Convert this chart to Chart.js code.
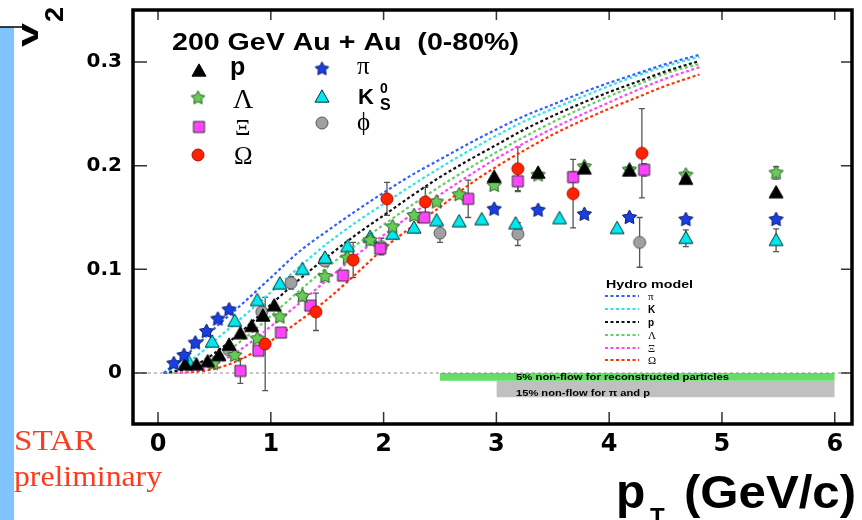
<!DOCTYPE html>
<html><head><meta charset="utf-8">
<script src="https://cdn.jsdelivr.net/npm/chart.js@4.4.1/dist/chart.umd.min.js"></script>
<style>html,body{margin:0;padding:0;background:#fff;overflow:hidden}canvas{display:block}</style>
</head><body>
<canvas id="c" width="862" height="520"></canvas>
<script>
// ---------------- data ----------------
const xTicks = [0, 1, 2, 3, 4, 5, 6];
const yTicks = [0, 0.1, 0.2, 0.3];

// measured v2 (pT, v2, error)
const pX   = [0.24,0.34,0.44,0.54,0.63,0.73,0.83,0.93,1.03,2.98,3.37,3.78,4.18,4.68,5.48];
const pY   = [0.008,0.008,0.011,0.017,0.027,0.038,0.045,0.055,0.065,0.189,0.193,0.197,0.195,0.187,0.174];
const pErr = [0,0,0,0,0,0,0,0,0,0,0,0,0,0,0];

const lamX   = [0.49,0.68,0.88,1.08,1.28,1.48,1.68,1.88,2.08,2.27,2.47,2.67,2.98,3.37,3.78,4.18,4.68,5.48];
const lamY   = [0.009,0.017,0.033,0.054,0.074,0.093,0.111,0.128,0.141,0.152,0.165,0.172,0.181,0.191,0.199,0.196,0.191,0.193];
const lamErr = [0,0,0,0,0,0,0,0,0,0,0,0,0,0,0,0,0.003,0.006];

const xiX   = [0.73,0.89,1.09,1.35,1.64,1.97,2.36,2.75,3.19,3.68,4.31];
const xiY   = [0.002,0.0215,0.039,0.065,0.094,0.120,0.150,0.168,0.185,0.189,0.196];
const xiErr = [0.012,0,0,0,0,0.005,0,0.018,0.010,0.005,0.006];

const omX   = [0.95,1.40,1.73,2.03,2.37,3.19,3.68,4.29];
const omY   = [0.028,0.059,0.109,0.168,0.165,0.197,0.173,0.212];
const omErr = [0.045,0.018,0.017,0.016,0.014,0.021,0.033,0.043];

const piX   = [0.14,0.23,0.33,0.43,0.53,0.63,2.98,3.37,3.78,4.18,4.68,5.48];
const piY   = [0.009,0.017,0.029,0.040,0.052,0.061,0.158,0.157,0.153,0.150,0.148,0.148];
const piErr = [0,0,0,0,0,0,0,0,0,0,0,0];

const ksX   = [0.27,0.48,0.68,0.88,1.08,1.28,1.48,1.68,1.88,2.08,2.27,2.47,2.67,2.87,3.17,3.56,4.07,4.68,5.48];
const ksY   = [0.011,0.030,0.050,0.070,0.086,0.100,0.111,0.122,0.131,0.134,0.140,0.147,0.146,0.148,0.144,0.149,0.1395,0.130,0.128];
const ksErr = [0,0,0,0,0,0,0,0,0,0,0,0,0,0,0,0,0,0.008,0.011];

const phiX   = [0.63,0.92,1.18,1.48,1.98,2.50,3.19,4.27];
const phiY   = [0.022,0.059,0.087,0.108,0.122,0.135,0.134,0.126];
const phiErr = [0,0.004,0.006,0,0.008,0.009,0.011,0.024];

// hydro model curves
const hydroX  = [0.05,0.3,0.5,0.75,1.0,1.25,1.5,1.75,2.0,2.25,2.5,2.75,3.0,3.25,3.5,3.75,4.0,4.25,4.5,4.8];
const hydroPi = [0,0.022,0.043,0.067,0.092,0.117,0.137,0.156,0.174,0.191,0.206,0.221,0.235,0.248,0.259,0.270,0.280,0.289,0.298,0.307];
const hydroK  = [0,0.013,0.031,0.054,0.078,0.102,0.125,0.145,0.163,0.181,0.198,0.214,0.229,0.243,0.255,0.266,0.277,0.287,0.296,0.305];
const hydroP  = [0,0.006,0.019,0.041,0.066,0.090,0.112,0.133,0.152,0.171,0.189,0.205,0.220,0.235,0.248,0.260,0.271,0.281,0.291,0.301];
const hydroL  = [0,0.004,0.013,0.032,0.055,0.079,0.102,0.123,0.143,0.162,0.180,0.197,0.213,0.228,0.242,0.255,0.267,0.278,0.289,0.298];
const hydroXi = [0,0.002,0.008,0.024,0.045,0.067,0.090,0.113,0.133,0.153,0.172,0.190,0.207,0.222,0.236,0.249,0.261,0.273,0.284,0.295];
const hydroOm = [0,0.001,0.004,0.014,0.031,0.050,0.071,0.095,0.120,0.141,0.160,0.181,0.199,0.215,0.230,0.243,0.255,0.266,0.277,0.288];

// non-flow bands
const band5X  = [2.5, 6.0];
const band5Hi = [0, 0];
const band5Lo = [-0.0075, -0.0075];
const band15X  = [3.0, 6.0];
const band15Hi = [-0.0075, -0.0075];
const band15Lo = [-0.0235, -0.0235];
const zeroX = [-0.25, 6.2];
const zeroY = [0, 0];

// ---------------- helpers ----------------
const pts = (xs, ys) => xs.map((x, i) => ({x, y: ys[i]}));

function marker(shape, size, fill, stroke) {
  const s = Math.ceil(size + 4);
  const c = document.createElement('canvas');
  c.width = s; c.height = s;
  const g = c.getContext('2d');
  g.translate(s / 2, s / 2);
  g.beginPath();
  if (shape === 'tri') {
    const h = size * 0.88;
    g.moveTo(0, -h * 0.58); g.lineTo(size / 2, h * 0.42); g.lineTo(-size / 2, h * 0.42); g.closePath();
  } else if (shape === 'star') {
    for (let i = 0; i < 10; i++) {
      const r = i % 2 ? size * 0.26 : size / 2;
      const a = -Math.PI / 2 + i * Math.PI / 5;
      g.lineTo(r * Math.cos(a), r * Math.sin(a));
    }
    g.closePath();
  } else if (shape === 'sq') {
    g.rect(-size / 2, -size / 2, size, size);
  } else {
    g.arc(0, 0, size / 2, 0, Math.PI * 2);
  }
  g.fillStyle = fill; g.fill();
  g.lineWidth = 1; g.strokeStyle = stroke; g.stroke();
  return c;
}

const C = {
  p:   {shape:'tri',  fill:'#000000', stroke:'#000000', size:14},
  lam: {shape:'star', fill:'#66cc55', stroke:'#2a5a2a', size:15},
  xi:  {shape:'sq',   fill:'#ff44ff', stroke:'#333333', size:11},
  om:  {shape:'circ', fill:'#ff2200', stroke:'#aa1100', size:12},
  pi:  {shape:'star', fill:'#1a3fe0', stroke:'#0a1a70', size:15},
  ks:  {shape:'tri',  fill:'#00e8f0', stroke:'#003333', size:14},
  phi: {shape:'circ', fill:'#a0a0a0', stroke:'#555555', size:12}
};
const img = k => marker(C[k].shape, C[k].size, C[k].fill, C[k].stroke);

function markerSet(label, xs, ys, errs, key, order) {
  return {type:'line', label, data: pts(xs, ys), errors: errs, showLine:false,
          pointStyle: img(key), pointRadius: 6, pointHoverRadius: 6, order};
}
function curve(label, ys, color) {
  return {type:'line', label, data: pts(hydroX, ys), borderColor: color, borderWidth: 2.2,
          borderDash: [3, 2.5], pointRadius: 0, cubicInterpolationMode: 'monotone', fill:false, order: 20};
}

const datasets = [
  markerSet('pi', piX, piY, piErr, 'pi', 1),
  markerSet('p', pX, pY, pErr, 'p', 2),
  markerSet('Omega', omX, omY, omErr, 'om', 3),
  markerSet('Lambda', lamX, lamY, lamErr, 'lam', 4),
  markerSet('Xi', xiX, xiY, xiErr, 'xi', 5),
  markerSet('Ks', ksX, ksY, ksErr, 'ks', 6),
  markerSet('phi', phiX, phiY, phiErr, 'phi', 7),
  curve('hydro pi', hydroPi, '#3060ff'),
  curve('hydro K', hydroK, '#33e0e6'),
  curve('hydro p', hydroP, '#111111'),
  curve('hydro Lambda', hydroL, '#66cc66'),
  curve('hydro Xi', hydroXi, '#ff44ff'),
  curve('hydro Omega', hydroOm, '#ff3300'),
  {type:'line', label:'zero', data: pts(zeroX, zeroY), borderColor:'#888', borderWidth:1, borderDash:[3,3], pointRadius:0, order:30},
  {type:'line', label:'b5hi', data: pts(band5X, band5Hi), borderWidth:0, pointRadius:0, fill:false, order:40},
  {type:'line', label:'b5lo', data: pts(band5X, band5Lo), borderWidth:0, pointRadius:0, fill:'-1', backgroundColor:'#66dd66', order:41},
  {type:'line', label:'b15hi', data: pts(band15X, band15Hi), borderWidth:0, pointRadius:0, fill:false, order:42},
  {type:'line', label:'b15lo', data: pts(band15X, band15Lo), borderWidth:0, pointRadius:0, fill:'-1', backgroundColor:'#c0c0c0', order:43}
];

function fitText(ctx, text, x, y, w, font, color) {
  ctx.save();
  ctx.font = font; ctx.fillStyle = color; ctx.textBaseline = 'alphabetic'; ctx.textAlign = 'left';
  const m = ctx.measureText(text).width;
  ctx.translate(x, y); ctx.scale(w / m, 1);
  ctx.fillText(text, 0, 0);
  ctx.restore();
}
function txt(ctx, text, x, y, font, color) {
  ctx.save(); ctx.font = font; ctx.fillStyle = color || '#000';
  ctx.textBaseline = 'alphabetic'; ctx.textAlign = 'left';
  ctx.fillText(text, x, y); ctx.restore();
}

const deco = {
  id: 'deco',
  beforeDraw(chart) {
    const ctx = chart.ctx;
    ctx.save();
    ctx.fillStyle = '#fff'; ctx.fillRect(0, 0, chart.width, chart.height);
    ctx.fillStyle = '#80c4ff'; ctx.fillRect(0, 27, 14, 493);
    ctx.strokeStyle = '#000'; ctx.lineWidth = 1.5;
    ctx.beginPath(); ctx.moveTo(0, 27); ctx.lineTo(23, 27); ctx.stroke();
    ctx.restore();
  },
  beforeDatasetsDraw(chart) {
    const ctx = chart.ctx, xs = chart.scales.x, ys = chart.scales.y;
    ctx.save();
    ctx.strokeStyle = '#555'; ctx.lineWidth = 1.3;
    chart.data.datasets.forEach(ds => {
      if (!ds.errors) return;
      ds.data.forEach((d, i) => {
        const e = ds.errors[i];
        if (!e) return;
        const px = xs.getPixelForValue(d.x);
        const y1 = ys.getPixelForValue(d.y - e), y2 = ys.getPixelForValue(d.y + e);
        ctx.beginPath();
        ctx.moveTo(px, y1); ctx.lineTo(px, y2);
        ctx.moveTo(px - 3, y1); ctx.lineTo(px + 3, y1);
        ctx.moveTo(px - 3, y2); ctx.lineTo(px + 3, y2);
        ctx.stroke();
      });
    });
    ctx.restore();
  },
  afterDraw(chart) {
    const ctx = chart.ctx, a = chart.chartArea, xs = chart.scales.x, ys = chart.scales.y;
    ctx.save();
    ctx.strokeStyle = '#333'; ctx.lineWidth = 1.5;
    ctx.beginPath();
    xTicks.forEach(v => {
      const px = xs.getPixelForValue(v);
      ctx.moveTo(px, a.bottom); ctx.lineTo(px, a.bottom - 12);
      ctx.moveTo(px, a.top); ctx.lineTo(px, a.top + 10);
    });
    yTicks.forEach(v => {
      const py = ys.getPixelForValue(v);
      ctx.moveTo(a.left, py); ctx.lineTo(a.left + 14, py);
      ctx.moveTo(a.right, py); ctx.lineTo(a.right - 11, py);
    });
    ctx.stroke();
    ctx.strokeStyle = '#000'; ctx.lineWidth = 3.5;
    ctx.strokeRect(a.left, a.top, a.right - a.left, a.bottom - a.top);
    ctx.restore();

    fitText(ctx, '200 GeV Au + Au  (0-80%)', 172, 50, 347, 'bold 24px "Liberation Sans"', '#000');

    const lm = (key, x, y, sc) => {
      const c = C[key];
      const im = marker(c.shape, c.size * sc, c.fill, c.stroke);
      ctx.drawImage(im, x - im.width / 2, y - im.height / 2);
    };
    lm('p', 199, 71, 1.0); lm('lam', 198, 98, 0.95); lm('xi', 199, 127, 1.0); lm('om', 198, 155, 1.0);
    lm('pi', 322, 69, 0.95); lm('ks', 322, 97, 1.0); lm('phi', 322, 123, 1.0);
    txt(ctx, 'p', 230, 75, 'bold 25px "Liberation Sans"');
    txt(ctx, 'Λ', 233, 108, '28px "Liberation Serif"');
    txt(ctx, 'Ξ', 235, 135, '24px "Liberation Serif"');
    txt(ctx, 'Ω', 234, 164, '25px "Liberation Serif"');
    txt(ctx, 'π', 357, 74, '25px "Liberation Serif"');
    txt(ctx, 'K', 358, 104, 'bold 22px "Liberation Sans"');
    txt(ctx, '0', 380, 93, 'bold 14px "Liberation Sans"');
    txt(ctx, 'S', 380, 110, 'bold 16px "Liberation Sans"');
    txt(ctx, 'ϕ', 357, 130, '25px "Liberation Serif"');

    fitText(ctx, 'Hydro model', 606, 288, 87, 'bold 11px "Liberation Sans"', '#000');
    const hl = [['π','#3060ff','11px "Liberation Serif"'],['K','#33e0e6','bold 10px "Liberation Sans"'],
                ['p','#111','bold 10px "Liberation Sans"'],['Λ','#66cc66','11px "Liberation Serif"'],
                ['Ξ','#ff44ff','11px "Liberation Serif"'],['Ω','#ff3300','11px "Liberation Serif"']];
    const hy = [296, 309, 322, 335, 348, 360];
    hl.forEach((h, i) => {
      ctx.save(); ctx.strokeStyle = h[1]; ctx.lineWidth = 2; ctx.setLineDash([3, 2.5]);
      ctx.beginPath(); ctx.moveTo(605, hy[i]); ctx.lineTo(639, hy[i]); ctx.stroke(); ctx.restore();
      txt(ctx, h[0], 648, hy[i] + 4, h[2]);
    });

    fitText(ctx, '5% non-flow for reconstructed particles', 516, 380, 213, 'bold 9px "Liberation Sans"', '#000');
    fitText(ctx, '15% non-flow for π and p', 516, 396, 134, 'bold 9px "Liberation Sans"', '#000');

    txt(ctx, 'p', 616, 508, 'bold 48px "Liberation Sans"');
    txt(ctx, 'T', 650, 525, 'bold 24px "Liberation Sans"');
    fitText(ctx, '(GeV/c)', 684, 508, 172, 'bold 46px "Liberation Sans"', '#000');

    ctx.save();
    ctx.translate(38, 47); ctx.rotate(-Math.PI / 2);
    fitText(ctx, 'v', 0, 0, 24, 'bold 30px "Liberation Sans"', '#000');
    fitText(ctx, '2', 25, 25, 15, 'bold 26px "Liberation Sans"', '#000');
    ctx.restore();

    fitText(ctx, 'STAR', 14, 450, 82, '30px "Liberation Serif"', '#ff3b1f');
    fitText(ctx, 'preliminary', 14, 486, 148, '30px "Liberation Serif"', '#ff3b1f');
  }
};

new Chart(document.getElementById('c'), {
  type: 'scatter',
  data: { datasets },
  options: {
    responsive: false, animation: false, devicePixelRatio: 1,
    layout: { padding: { left: 0, top: 10, right: 10, bottom: 0 } },
    plugins: { legend: { display: false }, tooltip: { enabled: false }, filler: { propagate: false } },
    scales: {
      x: {
        type: 'linear', min: -0.222, max: 6.153,
        afterBuildTicks: s => { s.ticks = xTicks.map(v => ({ value: v })); },
        afterFit: s => { s.height = 96; s.paddingLeft = 0; s.paddingRight = 0; },
        grid: { display: false, drawTicks: false }, border: { display: false },
        ticks: { color: '#000', padding: 6, font: { family: 'DejaVu Sans', weight: 'bold', size: 24 }, callback: v => String(v) }
      },
      y: {
        type: 'linear', min: -0.0492, max: 0.3502,
        afterBuildTicks: s => { s.ticks = yTicks.map(v => ({ value: v })); },
        afterFit: s => { s.width = 133; s.paddingTop = 0; s.paddingBottom = 0; },
        grid: { display: false, drawTicks: false }, border: { display: false },
        ticks: { color: '#000', padding: 11, font: { family: 'DejaVu Sans', weight: 'bold', size: 20 }, callback: v => v === 0 ? '0' : v.toFixed(1) }
      }
    }
  },
  plugins: [deco]
});
</script>
</body></html>
